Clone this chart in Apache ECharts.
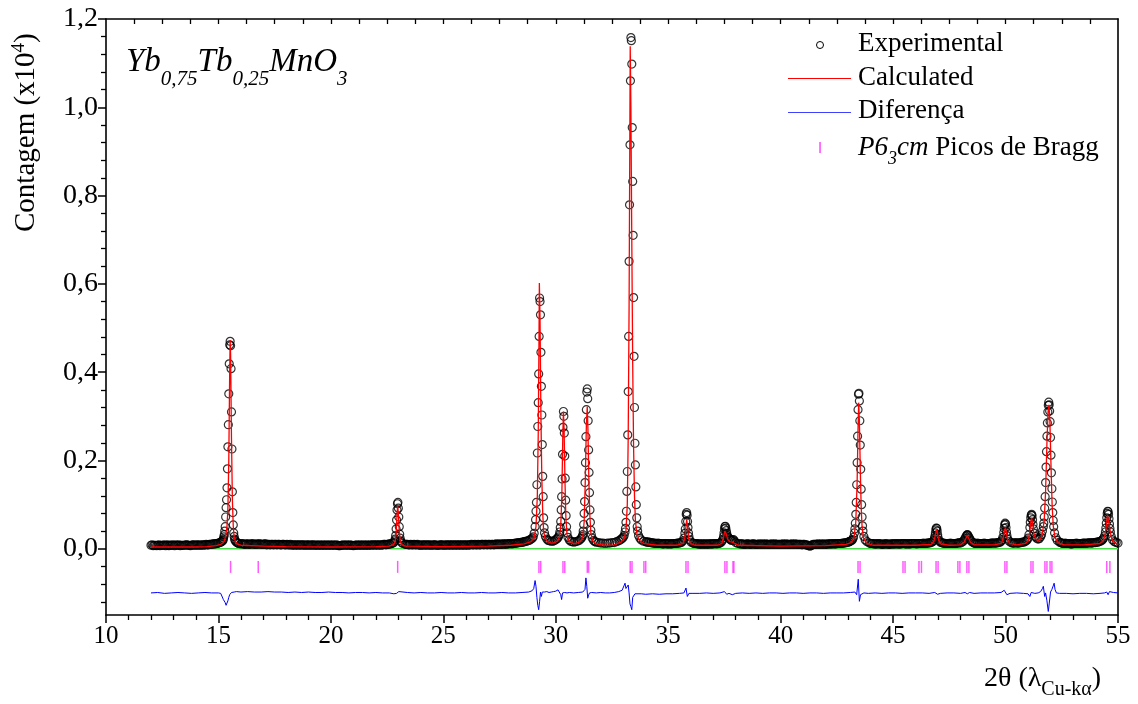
<!DOCTYPE html>
<html><head><meta charset="utf-8">
<script src="https://cdn.jsdelivr.net/npm/echarts@6/dist/echarts.min.js"></script>
<style>html,body{margin:0;padding:0;background:#fff}#c{width:1138px;height:704px}</style>
</head><body><div id="c"></div>
<script>
// ---- DATA ----
const expData = [
[12.0,.008],[12.1,.007],[12.2,.008],[12.3,.008],[12.4,.007],[12.5,.008],[12.6,.009],[12.7,.008],[12.8,.007],[12.9,.008],
[13.0,.008],[13.1,.009],[13.2,.008],[13.3,.007],[13.4,.008],[13.5,.008],[13.6,.009],[13.7,.008],[13.8,.008],[13.9,.009],
[14.0,.008],[14.1,.009],[14.2,.008],[14.3,.009],[14.4,.009],[14.5,.009],[14.6,.010],[14.7,.010],[14.8,.011],[14.9,.012],
[15.0,.013],[15.06,.014],[15.1,.015],[15.14,.016],[15.18,.018],
[15.20,.019],[15.22,.022],[15.24,.027],[15.26,.032],[15.28,.040],[15.30,.050],[15.32,.072],[15.34,.093],[15.36,.111],[15.38,.138],
[15.40,.181],[15.42,.231],[15.44,.281],[15.46,.351],[15.48,.419],[15.50,.462],[15.52,.470],[15.54,.460],[15.56,.408],[15.58,.310],
[15.60,.226],[15.62,.129],[15.64,.082],[15.66,.054],[15.68,.036],[15.70,.028],[15.72,.022],[15.74,.019],[15.78,.016],[15.82,.014],[15.86,.013],[15.9,.012],
[16.0,.011],[16.1,.011],[16.2,.010],[16.3,.011],[16.4,.010],[16.5,.011],[16.6,.010],[16.7,.011],[16.8,.011],[16.9,.010],
[17.0,.010],[17.1,.011],[17.2,.010],[17.3,.009],[17.4,.010],[17.5,.010],[17.6,.009],[17.7,.010],[17.8,.009],[17.9,.010],
[18.0,.009],[18.1,.009],[18.2,.010],[18.3,.009],[18.4,.008],[18.5,.009],[18.6,.009],[18.7,.008],[18.8,.009],[18.9,.008],
[19.0,.009],[19.1,.008],[19.2,.009],[19.3,.008],[19.4,.008],[19.5,.009],[19.6,.008],[19.7,.008],[19.8,.009],[19.9,.008],
[20.0,.008],[20.1,.009],[20.2,.008],[20.3,.008],[20.4,.007],[20.5,.008],[20.6,.008],[20.7,.009],[20.8,.008],[20.9,.008],
[21.0,.007],[21.1,.008],[21.2,.008],[21.3,.009],[21.4,.008],[21.5,.008],[21.6,.009],[21.7,.008],[21.8,.008],[21.9,.009],
[22.0,.009],[22.1,.008],[22.2,.009],[22.3,.009],[22.4,.010],[22.5,.010],[22.6,.011],[22.7,.012],[22.76,.013],
[22.80,.014],[22.84,.018],[22.86,.022],[22.88,.030],[22.90,.045],[22.92,.065],[22.94,.088],[22.96,.102],[22.98,.105],[23.00,.092],
[23.02,.072],[23.04,.050],[23.06,.033],[23.08,.024],[23.10,.018],[23.14,.014],[23.2,.012],[23.3,.010],
[23.4,.010],[23.5,.009],[23.6,.009],[23.7,.010],[23.8,.009],[23.9,.009],[24.0,.008],[24.1,.009],[24.2,.009],[24.3,.008],
[24.4,.009],[24.5,.008],[24.6,.009],[24.7,.008],[24.8,.008],[24.9,.009],[25.0,.008],[25.1,.009],[25.2,.008],[25.3,.009],
[25.4,.009],[25.5,.008],[25.6,.009],[25.7,.009],[25.8,.008],[25.9,.009],[26.0,.009],[26.1,.008],[26.2,.009],[26.3,.009],
[26.4,.010],[26.5,.009],[26.6,.009],[26.7,.010],[26.8,.009],[26.9,.010],[27.0,.010],[27.1,.009],[27.2,.010],[27.3,.010],
[27.4,.010],[27.5,.011],[27.6,.010],[27.7,.011],[27.8,.011],[27.9,.011],[28.0,.012],[28.1,.012],[28.2,.013],[28.3,.013],
[28.4,.014],[28.5,.015],[28.6,.016],[28.7,.017],[28.8,.019],[28.9,.022],[28.96,.024],
[29.00,.027],[29.04,.035],[29.08,.050],[29.10,.066],[29.12,.085],[29.14,.105],[29.16,.145],[29.18,.217],[29.20,.277],[29.22,.331],
[29.24,.396],[29.26,.481],[29.28,.568],[29.30,.560],[29.32,.530],[29.34,.445],[29.36,.368],[29.38,.303],[29.40,.236],[29.42,.164],
[29.44,.118],[29.46,.070],[29.48,.048],[29.50,.036],[29.54,.028],[29.60,.022],[29.66,.019],[29.72,.018],[29.8,.017],[29.86,.017],
[29.92,.018],[29.98,.020],[30.04,.022],
[30.08,.024],[30.12,.027],[30.16,.032],[30.18,.038],[30.20,.048],[30.22,.062],[30.24,.088],[30.26,.118],[30.28,.158],[30.30,.214],
[30.32,.275],[30.34,.311],[30.36,.300],[30.38,.262],[30.40,.210],[30.42,.160],[30.44,.110],[30.46,.075],[30.48,.050],[30.50,.036],
[30.54,.026],[30.60,.020],[30.66,.017],[30.72,.016],[30.8,.015],[30.88,.016],[30.96,.017],[31.04,.019],[31.10,.022],
[31.14,.024],[31.18,.028],[31.20,.032],[31.22,.040],[31.24,.055],[31.26,.080],[31.28,.107],[31.30,.150],[31.32,.195],[31.34,.254],
[31.36,.315],[31.38,.355],[31.40,.362],[31.42,.340],[31.44,.290],[31.46,.224],[31.48,.173],[31.50,.127],[31.52,.088],[31.54,.060],
[31.56,.042],[31.58,.032],[31.62,.024],[31.68,.019],[31.74,.016],[31.8,.015],[31.9,.014],[32.0,.013],[32.1,.013],[32.2,.012],
[32.3,.013],[32.4,.013],[32.5,.014],[32.6,.014],[32.7,.016],[32.8,.018],[32.86,.020],[32.92,.022],[32.96,.024],
[33.00,.026],[33.04,.030],[33.08,.038],[33.10,.046],[33.12,.060],[33.14,.085],[33.16,.130],[33.18,.175],[33.20,.258],[33.22,.356],
[33.24,.481],[33.26,.651],[33.28,.779],[33.30,.915],[33.32,1.060],[33.34,1.158],[33.36,1.151],[33.38,1.098],[33.40,.954],[33.42,.832],
[33.44,.710],[33.46,.569],[33.48,.436],[33.50,.320],[33.52,.239],[33.54,.190],[33.56,.140],[33.58,.100],[33.60,.070],[33.62,.050],
[33.64,.040],[33.68,.030],[33.74,.024],[33.8,.020],[33.9,.017],[34.0,.016],[34.1,.015],[34.2,.014],[34.3,.013],[34.4,.013],
[34.5,.012],[34.6,.012],[34.7,.012],[34.8,.011],[34.9,.012],[35.0,.011],[35.1,.011],[35.2,.012],[35.3,.012],[35.4,.013],
[35.5,.013],[35.56,.014],
[35.60,.015],[35.66,.018],[35.70,.024],[35.74,.035],[35.76,.045],[35.78,.062],[35.80,.078],[35.82,.082],[35.84,.076],[35.86,.062],
[35.88,.048],[35.90,.036],[35.92,.028],[35.96,.020],[36.02,.015],[36.1,.013],[36.2,.012],[36.3,.011],[36.4,.011],[36.5,.011],
[36.6,.010],[36.7,.011],[36.8,.011],[36.9,.011],[37.0,.011],[37.1,.012],[37.2,.012],[37.3,.013],
[37.36,.015],[37.40,.018],[37.44,.022],[37.46,.028],[37.48,.036],[37.50,.045],[37.52,.050],[37.54,.051],[37.56,.047],[37.58,.041],
[37.60,.035],[37.62,.030],[37.66,.026],[37.70,.024],[37.74,.022],[37.78,.020],[37.82,.019],[37.86,.020],[37.90,.021],[37.94,.018],
[38.0,.014],[38.1,.012],[38.2,.011],
[38.3,.011],[38.4,.010],[38.5,.011],[38.6,.010],[38.7,.010],[38.8,.011],[38.9,.010],[39.0,.010],[39.1,.010],[39.2,.011],
[39.3,.010],[39.4,.010],[39.5,.010],[39.6,.011],[39.7,.010],[39.8,.010],[39.9,.010],[40.0,.010],[40.1,.011],[40.2,.010],
[40.3,.010],[40.4,.010],[40.5,.011],[40.6,.010],[40.7,.010],[40.8,.010],[40.9,.010],[41.0,.010],[41.1,.009],[41.2,.008],
[41.3,.006],[41.4,.009],[41.5,.010],[41.6,.010],[41.7,.010],[41.8,.011],[41.9,.010],[42.0,.010],[42.1,.011],[42.2,.011],
[42.3,.011],[42.4,.011],[42.5,.012],[42.6,.012],[42.7,.012],[42.8,.013],[42.9,.014],[43.0,.015],[43.06,.016],[43.12,.018],
[43.16,.019],[43.20,.021],[43.24,.026],[43.28,.036],[43.30,.045],[43.32,.058],[43.34,.078],[43.36,.105],[43.38,.145],[43.40,.195],
[43.42,.255],[43.44,.315],[43.46,.350],[43.48,.352],[43.50,.335],[43.52,.290],[43.54,.235],[43.56,.180],[43.58,.135],[43.60,.100],
[43.62,.072],[43.64,.052],[43.66,.040],[43.70,.028],[43.76,.020],[43.84,.016],[43.94,.013],[44.0,.012],[44.1,.012],[44.2,.011],
[44.3,.011],[44.4,.011],[44.5,.010],[44.6,.011],[44.7,.011],[44.8,.010],[44.9,.011],[45.0,.011],[45.1,.011],[45.2,.011],
[45.3,.011],[45.4,.012],[45.5,.012],[45.6,.011],[45.7,.011],[45.8,.012],[45.9,.012],[46.0,.012],[46.1,.012],[46.2,.012],
[46.3,.012],[46.4,.012],[46.5,.013],[46.6,.013],[46.7,.014],
[46.76,.016],[46.80,.019],[46.84,.024],[46.86,.029],[46.88,.036],[46.90,.043],[46.92,.047],[46.94,.046],[46.96,.040],[46.98,.032],
[47.00,.025],[47.04,.019],[47.10,.015],[47.2,.013],[47.3,.012],[47.4,.012],[47.5,.012],[47.6,.012],[47.7,.012],[47.8,.012],
[47.9,.013],[48.0,.013],[48.06,.015],
[48.12,.017],[48.16,.020],[48.20,.024],[48.24,.028],[48.28,.031],[48.30,.032],[48.32,.031],[48.36,.027],[48.40,.024],[48.44,.020],
[48.50,.016],[48.56,.014],[48.6,.013],[48.7,.012],[48.8,.012],[48.9,.012],[49.0,.012],[49.1,.012],[49.2,.012],[49.3,.012],
[49.4,.013],[49.5,.013],[49.6,.013],[49.7,.014],[49.76,.015],
[49.80,.017],[49.84,.020],[49.88,.026],[49.92,.037],[49.94,.046],[49.96,.054],[49.98,.058],[50.00,.056],[50.02,.048],[50.04,.038],
[50.06,.030],[50.10,.022],[50.16,.017],[50.24,.014],[50.3,.013],[50.4,.013],[50.5,.013],[50.6,.013],[50.7,.014],[50.8,.015],
[50.86,.016],[50.92,.018],
[50.96,.020],[51.00,.024],[51.04,.032],[51.08,.048],[51.10,.060],[51.12,.070],[51.14,.076],[51.16,.078],[51.18,.075],[51.20,.066],
[51.22,.055],[51.24,.045],[51.28,.035],[51.32,.028],[51.38,.024],[51.44,.022],[51.50,.023],[51.56,.027],[51.60,.032],[51.64,.040],
[51.68,.050],[51.70,.058],[51.72,.072],[51.74,.092],[51.76,.118],[51.78,.150],[51.80,.185],[51.82,.220],[51.84,.255],[51.86,.285],
[51.88,.310],[51.90,.325],[51.92,.332],[51.94,.326],[51.96,.312],[51.98,.288],[52.00,.252],[52.02,.212],[52.04,.172],[52.06,.136],
[52.08,.106],[52.10,.082],[52.12,.064],[52.14,.050],[52.18,.036],[52.24,.025],[52.30,.019],[52.40,.015],[52.5,.013],[52.6,.012],
[52.7,.012],[52.8,.012],[52.9,.011],[53.0,.012],[53.1,.012],[53.2,.012],[53.3,.012],[53.4,.012],[53.5,.013],[53.6,.013],
[53.7,.013],[53.8,.013],[53.9,.014],[54.0,.014],[54.1,.015],[54.16,.016],[54.22,.017],[54.28,.019],
[54.32,.021],[54.36,.024],[54.40,.029],[54.44,.038],[54.46,.047],[54.48,.058],[54.50,.070],[54.52,.080],[54.54,.085],[54.56,.084],
[54.58,.078],[54.60,.068],[54.62,.056],[54.64,.046],[54.66,.038],[54.70,.028],[54.76,.020],[54.84,.016],[54.92,.014],[55.0,.013]
];
// extra background readings between the points above (measurement grid: first angle, 0.1 step, read counts)
const expBgBetween = [
 {x0:12.05, y:[.009,.008,.007,.009,.008,.008,.007,.009,.008,.009,.007,.008,.009,.008,.008,.009,.008,.007,.009,.008,.009,.008,.009,.008,.010,.009,.010,.011,.011,.012]},
 {x0:16.05, y:[.012,.010,.011,.010,.011,.011,.010,.010,.011,.010,.011,.009,.010,.010,.009,.010,.010,.009,.010,.009,
   .010,.009,.008,.009,.009,.008,.009,.009,.008,.009,.008,.009,.008,.009,.008,.008,.009,.008,.008,.009,
   .008,.008,.009,.007,.008,.009,.008,.008,.009,.008,.008,.009,.008,.008,.009,.008,.008,.009,.009,.008,
   .009,.009,.008,.010,.009,.010,.011]},
 {x0:23.35, y:[.010,.009,.010,.009,.009,.010,.008,.009,.008,.009,.009,.008,.009,.009,.008,.009,.009,.008,.009,.009,
   .008,.009,.009,.008,.009,.009,.008,.009,.009,.010,.009,.009,.010,.009,.010,.010,.009,.010,.010,.009,
   .011,.010,.010,.011,.010,.011,.012,.011,.012,.013,.014,.014,.015,.017,.018,.020]},
 {x0:34.05, y:[.015,.015,.014,.013,.012,.013,.012,.011,.012,.011,.012,.011,.012,.012,.013]},
 {x0:36.15, y:[.012,.012,.011,.010,.011,.011,.010,.011,.011,.012,.011,.012]},
 {x0:38.25, y:[.011,.010,.010,.011,.010,.011,.010,.010,.011,.010,.010,.011,.010,.010,.010,.011,.010,.010,.010,.010,
   .011,.010,.010,.010,.011,.010,.010,.009,.010,.009,.007,.007,.010,.010,.011,.010,.010,.011,.010,.011,
   .011,.012,.011,.012,.012,.013,.013,.014,.016]},
 {x0:44.05, y:[.012,.011,.011,.012,.011,.010,.011,.011,.010,.011,.011,.012,.011,.011,.012,.011,.012,.011,.012,.012,.011,.012,.012,.013,.012,.013,.014]},
 {x0:47.15, y:[.014,.013,.012,.012,.013,.012,.012,.013,.014]},
 {x0:48.65, y:[.012,.013,.012,.012,.013,.012,.012,.013,.013,.013,.014]},
 {x0:50.35, y:[.013,.014,.013,.014,.015]},
 {x0:52.45, y:[.014,.012,.013,.012,.012,.011,.012,.013,.012,.012,.013,.012,.013,.014,.013,.014,.015]}
];
const bgStep = 0.1;

const calcData = [
[12.0,.004],[13.0,.004],[14.0,.004],[14.5,.005],[14.9,.007],[15.1,.010],[15.2,.013],[15.26,.018],[15.32,.028],[15.38,.050],
[15.42,.090],[15.46,.200],[15.50,.400],[15.52,.473],[15.54,.440],[15.58,.250],[15.62,.110],[15.66,.050],[15.70,.026],[15.76,.016],
[15.86,.010],[16.0,.008],[17.0,.006],[18.0,.005],[20.0,.004],[22.0,.005],[22.6,.006],[22.80,.010],[22.86,.016],[22.90,.035],
[22.94,.075],[22.97,.098],[23.00,.080],[23.04,.040],[23.08,.018],[23.14,.010],[23.3,.006],[25.0,.005],[27.0,.006],[28.0,.008],
[28.6,.011],[28.9,.016],[29.04,.025],[29.12,.050],[29.18,.120],[29.22,.260],[29.25,.450],[29.27,.602],[29.30,.520],[29.34,.300],
[29.38,.160],[29.42,.080],[29.46,.040],[29.52,.024],[29.62,.016],[29.8,.013],[29.95,.014],[30.08,.018],[30.16,.026],[30.22,.050],
[30.27,.120],[30.31,.250],[30.34,.311],[30.37,.270],[30.41,.150],[30.45,.070],[30.50,.032],[30.58,.018],[30.8,.011],[31.0,.014],
[31.12,.018],[31.20,.026],[31.26,.060],[31.31,.150],[31.36,.280],[31.40,.322],[31.43,.270],[31.47,.160],[31.51,.080],[31.56,.036],
[31.64,.018],[31.8,.011],[32.2,.008],[32.6,.009],[32.9,.015],[33.04,.022],[33.12,.040],[33.18,.100],[33.22,.250],[33.26,.550],
[33.29,.900],[33.31,1.138],[33.34,1.000],[33.38,.700],[33.42,.420],[33.46,.230],[33.50,.120],[33.54,.065],[33.60,.036],[33.70,.020],
[33.9,.012],[34.5,.008],[35.4,.008],[35.66,.012],[35.74,.025],[35.79,.052],[35.82,.066],[35.85,.055],[35.90,.025],[35.98,.012],
[36.2,.008],[37.2,.008],[37.38,.012],[37.46,.025],[37.51,.040],[37.54,.043],[37.58,.034],[37.64,.022],[37.74,.016],[37.84,.015],
[37.90,.017],[37.96,.012],[38.1,.008],[40.0,.006],[42.0,.007],[42.9,.010],[43.14,.014],[43.26,.025],[43.34,.060],[43.40,.150],
[43.44,.270],[43.47,.331],[43.50,.290],[43.54,.180],[43.58,.095],[43.62,.050],[43.68,.025],[43.80,.013],[44.1,.008],[46.0,.008],
[46.7,.010],[46.82,.018],[46.88,.032],[46.93,.044],[46.97,.036],[47.02,.020],[47.12,.011],[47.5,.008],[48.0,.009],[48.16,.015],
[48.24,.024],[48.30,.030],[48.36,.024],[48.44,.015],[48.6,.009],[49.5,.009],[49.8,.012],[49.88,.020],[49.94,.036],[49.99,.048],
[50.03,.040],[50.08,.022],[50.18,.012],[50.5,.009],[50.9,.012],[51.02,.020],[51.08,.040],[51.13,.064],[51.16,.070],[51.20,.058],
[51.26,.034],[51.34,.022],[51.46,.018],[51.56,.022],[51.64,.035],[51.72,.065],[51.78,.130],[51.84,.240],[51.89,.310],[51.93,.326],
[51.97,.290],[52.02,.190],[52.07,.100],[52.12,.052],[52.20,.026],[52.32,.014],[52.6,.009],[53.5,.009],[54.2,.012],[54.34,.018],
[54.42,.030],[54.48,.052],[54.53,.076],[54.55,.080],[54.58,.072],[54.63,.048],[54.70,.026],[54.80,.015],[55.0,.010]
];

const diffData = [
[12.0,-.100],[12.3,-.099],[12.6,-.101],[12.9,-.100],[13.2,-.099],[13.5,-.100],[13.8,-.101],[14.1,-.100],[14.4,-.099],[14.7,-.100],
[15.0,-.100],[15.1,-.101],[15.16,-.104],[15.22,-.115],[15.26,-.112],[15.30,-.122],[15.34,-.128],[15.38,-.124],[15.42,-.118],[15.46,-.110],
[15.50,-.104],[15.54,-.108],[15.58,-.099],[15.62,-.097],[15.7,-.098],[15.8,-.097],[16.0,-.098],[16.3,-.097],[16.6,-.098],[16.9,-.098],
[17.2,-.097],[17.5,-.098],[17.8,-.098],[18.1,-.099],[18.4,-.098],[18.7,-.099],[19.0,-.098],[19.3,-.099],[19.6,-.099],[19.9,-.098],
[20.2,-.099],[20.5,-.099],[20.8,-.100],[21.1,-.099],[21.4,-.099],[21.7,-.100],[22.0,-.099],[22.3,-.100],[22.6,-.100],[22.8,-.102],
[22.86,-.106],[22.92,-.101],[22.97,-.098],[23.02,-.097],[23.1,-.099],[23.4,-.099],[23.7,-.100],[24.0,-.099],[24.3,-.100],[24.6,-.100],
[24.9,-.099],[25.2,-.100],[25.5,-.100],[25.8,-.099],[26.1,-.100],[26.4,-.100],[26.7,-.099],[27.0,-.100],[27.3,-.100],[27.6,-.099],
[27.9,-.100],[28.2,-.100],[28.5,-.099],[28.8,-.098],[28.95,-.095],[29.02,-.090],[29.08,-.072],[29.12,-.085],[29.16,-.110],[29.20,-.128],
[29.24,-.138],[29.28,-.120],[29.32,-.098],[29.36,-.108],[29.40,-.098],[29.44,-.096],[29.50,-.098],[29.6,-.097],[29.7,-.099],[29.8,-.098],
[29.9,-.097],[30.0,-.096],[30.1,-.093],[30.16,-.095],[30.22,-.104],[30.26,-.115],[30.30,-.100],[30.34,-.104],[30.40,-.099],[30.5,-.100],
[30.6,-.099],[30.8,-.100],[31.0,-.099],[31.2,-.098],[31.30,-.092],[31.34,-.066],[31.38,-.085],[31.42,-.112],[31.46,-.105],[31.50,-.100],
[31.6,-.099],[31.8,-.100],[32.0,-.099],[32.2,-.100],[32.4,-.100],[32.6,-.099],[32.8,-.097],[32.95,-.094],[33.02,-.090],[33.08,-.078],
[33.12,-.090],[33.18,-.088],[33.22,-.082],[33.26,-.100],[33.30,-.125],[33.34,-.131],[33.38,-.138],[33.42,-.110],[33.46,-.106],[33.52,-.102],
[33.6,-.103],[33.8,-.102],[34.0,-.103],[34.3,-.102],[34.6,-.103],[34.9,-.102],[35.2,-.102],[35.5,-.101],[35.7,-.100],[35.79,-.089],
[35.85,-.108],[35.92,-.101],[36.1,-.101],[36.4,-.101],[36.7,-.100],[37.0,-.101],[37.3,-.100],[37.5,-.097],[37.6,-.103],[37.7,-.101],
[37.85,-.104],[38.0,-.101],[38.3,-.100],[38.6,-.101],[38.9,-.100],[39.2,-.101],[39.5,-.100],[39.8,-.100],[40.1,-.101],[40.4,-.100],
[40.7,-.100],[41.0,-.101],[41.3,-.100],[41.6,-.100],[41.9,-.101],[42.2,-.100],[42.5,-.100],[42.8,-.100],[43.1,-.099],[43.3,-.098],
[43.38,-.104],[43.45,-.069],[43.50,-.119],[43.55,-.104],[43.6,-.102],[43.7,-.100],[43.9,-.101],[44.2,-.100],[44.5,-.101],[44.8,-.100],
[45.1,-.100],[45.4,-.101],[45.7,-.100],[46.0,-.100],[46.3,-.100],[46.6,-.101],[46.85,-.099],[46.92,-.096],[46.98,-.103],[47.1,-.101],
[47.4,-.100],[47.7,-.100],[48.0,-.101],[48.2,-.099],[48.3,-.102],[48.4,-.099],[48.6,-.101],[48.9,-.100],[49.2,-.100],[49.5,-.100],
[49.8,-.099],[49.94,-.094],[50.0,-.098],[50.06,-.104],[50.2,-.101],[50.5,-.100],[50.8,-.101],[51.0,-.102],[51.08,-.108],[51.14,-.099],
[51.2,-.103],[51.3,-.101],[51.45,-.100],[51.56,-.097],[51.64,-.090],[51.68,-.085],[51.74,-.108],[51.78,-.100],[51.84,-.118],[51.90,-.142],
[51.94,-.125],[52.00,-.098],[52.06,-.092],[52.12,-.084],[52.16,-.078],[52.20,-.092],[52.26,-.100],[52.4,-.101],[52.7,-.101],[53.0,-.102],
[53.3,-.101],[53.6,-.101],[53.9,-.102],[54.2,-.101],[54.4,-.100],[54.5,-.098],[54.56,-.104],[54.62,-.097],[54.7,-.100],[54.8,-.099],[55.0,-.100]
];

const backgroundData = [[12.0,0.0],[55.0,0.0]];

const braggPos = [15.54,16.77,22.97,29.25,29.33,30.32,30.40,31.40,31.46,33.31,33.39,33.92,34.00,35.79,35.88,
  37.52,37.61,37.88,37.92,43.44,43.53,45.44,45.53,46.15,46.26,46.91,47.00,47.88,47.97,48.28,48.37,
  49.97,50.06,51.13,51.22,51.75,51.84,51.98,52.06,54.50,54.64];
const braggLevel = -0.041;

const yMajorTicks = [0,0.2,0.4,0.6,0.8,1.0,1.2];
const yMinorTicks = [-0.12,-0.08,-0.04,0.04,0.08,0.12,0.16,0.24,0.28,0.32,0.36,0.44,0.48,0.52,0.56,
  0.64,0.68,0.72,0.76,0.84,0.88,0.92,0.96,1.04,1.08,1.12,1.16];
const xTopTicks = [11.25,12.5,13.75,15,16.25,17.5,18.75,20,21.25,22.5,23.75,25,26.25,27.5,28.75,30,
  31.25,32.5,33.75,35,36.25,37.5,38.75,40,41.25,42.5,43.75,45,46.25,47.5,48.75,50,51.25,52.5,53.75];

// ---- RENDER ----
const expAll = expData.slice();
expBgBetween.forEach(seg => seg.y.forEach((v,i) => expAll.push([+(seg.x0 + i*bgStep).toFixed(2), v])));

const FF = '"Liberation Serif","Times New Roman",serif';
const chart = echarts.init(document.getElementById('c'), null, {renderer:'canvas'});
const mctx = document.createElement('canvas').getContext('2d');
function tw(t, s, it){ mctx.font = (it?'italic ':'') + s + 'px ' + FF; return mctx.measureText(t).width; }
function richRow(x, base, parts, color){
  const els = []; let cx = x;
  for (const p of parts){
    const [t,s,it,dy] = p;
    els.push({type:'text', x: cx, y: base + (dy||0) - 0.3375*s, silent:true,
      style:{text:t, fontSize:s, fontFamily:FF, fontStyle: it?'italic':'normal', fill: color||'#000', align:'left', verticalAlign:'middle'}});
    cx += tw(t,s,it);
  }
  return els;
}
const axisLineStyle = {color:'#000', width:1.6};
const graphics = [];
graphics.push(...richRow(126, 73, [['Yb',33,true],['0,75',21,true,14],['Tb',33,true],['0,25',21,true,14],['MnO',33,true],['3',21,true,14]]));
graphics.push({type:'circle', shape:{cx:820, cy:45, r:3.5}, style:{fill:'none', stroke:'#000', lineWidth:1}});
graphics.push({type:'line', shape:{x1:788, y1:78.5, x2:851, y2:78.5}, style:{stroke:'#ff0000', lineWidth:1.2}});
graphics.push({type:'line', shape:{x1:788, y1:112.5, x2:851, y2:112.5}, style:{stroke:'#4040ff', lineWidth:1.2}});
graphics.push({type:'rect', shape:{x:819.3, y:142, width:1.5, height:11}, style:{fill:'#ff44ff'}});
graphics.push(...richRow(858, 53, [['Experimental',27,false]]));
graphics.push(...richRow(858, 87, [['Calculated',27,false]]));
graphics.push(...richRow(858, 120, [['Diferença',27,false]]));
graphics.push(...richRow(858, 157, [['P6',27,true],['3',18,true,8],['cm',27,true],[' Picos de Bragg',27,false]]));
graphics.push(...richRow(984, 688, [['2θ (λ',28,false],['Cu-kα',20,false,8],[')',28,false]]));
graphics.push({type:'group', x:36, y:232, rotation:Math.PI/2,
  children: richRow(0, 0, [['Contagem (x10',29,false],['4',19,false,-11],[')',29,false]])});

chart.setOption({
  animation:false,
  backgroundColor:'#fff',
  grid:{left:106, right:20, top:19, bottom:89, containLabel:false},
  xAxis:[
    {type:'value', min:10, max:55, interval:5, position:'bottom',
      axisLine:{onZero:false, lineStyle:axisLineStyle}, axisTick:{length:8, lineStyle:{color:'#000', width:1.5}},
      minorTick:{show:true, splitNumber:5, length:5, lineStyle:{color:'#000', width:1.3}},
      axisLabel:{fontFamily:FF, fontSize:25, color:'#000', margin:9}, splitLine:{show:false}},
    {type:'value', min:10, max:55, position:'top',
      axisLine:{onZero:false, lineStyle:axisLineStyle}, axisTick:{inside:true, length:5, customValues:xTopTicks, lineStyle:{color:'#000', width:1.3}},
      axisLabel:{show:false}, splitLine:{show:false}}
  ],
  yAxis:[
    {type:'value', min:-0.15, max:1.2, position:'left',
      axisLine:{onZero:false, lineStyle:axisLineStyle}, axisTick:{length:8, customValues:yMajorTicks, lineStyle:{color:'#000', width:1.5}},
      axisLabel:{customValues:yMajorTicks, fontFamily:FF, fontSize:28, color:'#000', margin:8,
        formatter:v=>v.toFixed(1).replace('.',',')}, splitLine:{show:false}},
    {type:'value', min:-0.15, max:1.2, position:'left',
      axisLine:{show:false, onZero:false}, axisTick:{length:5, customValues:yMinorTicks, lineStyle:{color:'#000', width:1.3}},
      axisLabel:{show:false}, splitLine:{show:false}},
    {type:'value', min:-0.15, max:1.2, position:'right',
      axisLine:{onZero:false, lineStyle:axisLineStyle}, axisTick:{show:false}, axisLabel:{show:false}, splitLine:{show:false}}
  ],
  series:[
    {name:'Background', type:'line', data:backgroundData, symbol:'none', lineStyle:{color:'#44dd44', width:1.5}, z:1},
    {name:'Experimental', type:'scatter', data:expAll, symbol:'circle', symbolSize:8, large:false,
      itemStyle:{color:'rgba(0,0,0,0)', borderColor:'#000', borderWidth:1.2}, z:2},
    {name:'Calculated', type:'line', data:calcData, symbol:'none', lineStyle:{color:'#ff0000', width:1.3}, z:3},
    {name:'Diferença', type:'line', data:diffData, symbol:'none', lineStyle:{color:'#0000ff', width:1}, z:3},
    {name:'P63cm Picos de Bragg', type:'scatter', data:braggPos.map(x=>[x,braggLevel]), symbol:'rect', symbolSize:[1.5,12],
      itemStyle:{color:'#ff33ff'}, z:3}
  ],
  graphic: graphics
});
</script></body></html>
